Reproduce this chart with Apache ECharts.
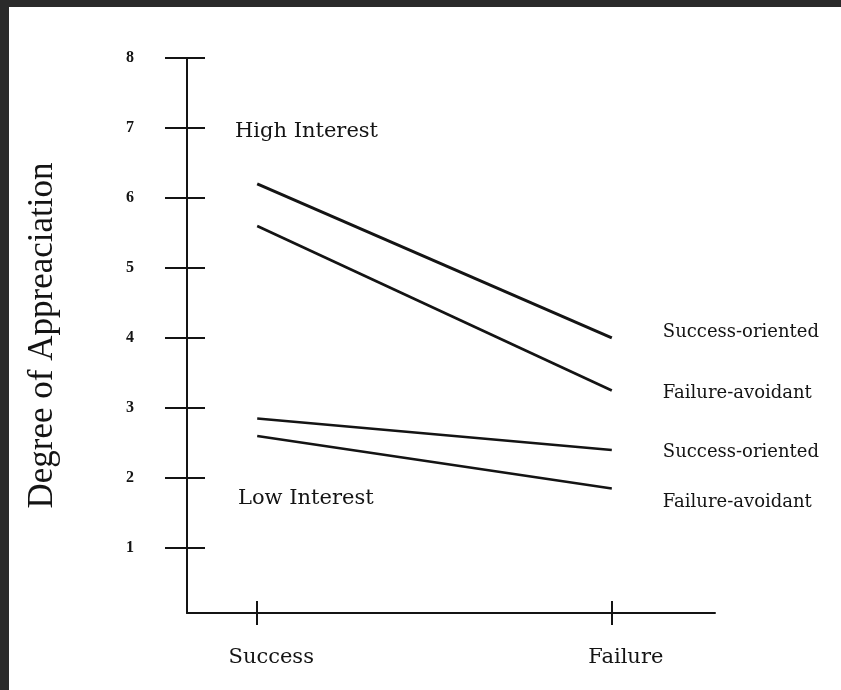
<!DOCTYPE html>
<html>
<head>
<meta charset="utf-8">
<script src="https://cdn.jsdelivr.net/npm/echarts@6/dist/echarts.min.js"></script>
<style>html,body{margin:0;padding:0;background:#fff;}#c{width:841px;height:690px;}</style>
</head>
<body>
<div id="c"></div>
<script>
const categories = ['Success', 'Failure'];
const yTicks = [1, 2, 3, 4, 5, 6, 7, 8];
const highSuccessOriented = [6.2, 4.0];
const highFailureAvoidant = [5.6, 3.25];
const lowSuccessOriented = [2.85, 2.4];
const lowFailureAvoidant = [2.6, 1.85];
const seriesNames = ['Success-oriented', 'Failure-avoidant', 'Success-oriented', 'Failure-avoidant'];
const groupLabels = ['High Interest', 'Low Interest'];
const yAxisTitle = 'Degree of Appreaciation';

const ink = '#141414';
const serif = '"DejaVu Serif", "Liberation Serif", serif';
const xIdx = categories.map((c, i) => i);
const toData = vals => vals.map((v, i) => [xIdx[i], v]);

const seriesValues = [highSuccessOriented, highFailureAvoidant, lowSuccessOriented, lowFailureAvoidant];
const lineWidths = [3, 2.6, 2.6, 2.4];
const labelDy = [-6, 2.5, 2, 13.5];

const chart = echarts.init(document.getElementById('c'), null, {renderer: 'canvas'});
const commonX = {
  type: 'value', min: -0.198, max: 1.291, position: 'bottom',
  splitLine: {show: false}
};
const commonY = {
  type: 'value', min: 0.071, max: 8, position: 'left',
  splitLine: {show: false}
};
chart.setOption({
  animation: false,
  backgroundColor: '#ffffff',
  grid: {left: 187, right: 126, top: 58, bottom: 77, containLabel: false},
  xAxis: [
    Object.assign({}, commonX, {
      axisLine: {show: true, onZero: false, lineStyle: {color: ink, width: 2}},
      axisTick: {show: true, inside: false, length: 12, customValues: xIdx, lineStyle: {color: ink, width: 2}},
      axisLabel: {show: true, customValues: xIdx, formatter: v => categories[Math.round(v)] || '',
        margin: 34, color: ink, fontFamily: serif, fontSize: 21, padding: [0, 0, 0, 28]}
    }),
    Object.assign({}, commonX, {
      axisLine: {show: false, onZero: false},
      axisTick: {show: true, inside: true, length: 12, customValues: xIdx, lineStyle: {color: ink, width: 2}},
      axisLabel: {show: false}
    })
  ],
  yAxis: [
    Object.assign({}, commonY, {
      name: yAxisTitle, nameLocation: 'middle', nameGap: 127, nameRotate: 90,
      nameTextStyle: {fontFamily: '"Liberation Serif", serif', fontSize: 35, color: ink},
      axisLine: {show: true, onZero: false, lineStyle: {color: ink, width: 2}},
      axisTick: {show: true, inside: false, length: 22, customValues: yTicks, lineStyle: {color: ink, width: 2}},
      axisLabel: {show: true, customValues: yTicks, margin: 53, color: ink,
        fontFamily: '"Liberation Serif", serif', fontWeight: 'bold', fontSize: 16}
    }),
    Object.assign({}, commonY, {
      axisLine: {show: false, onZero: false},
      axisTick: {show: true, inside: true, length: 18, customValues: yTicks, lineStyle: {color: ink, width: 2}},
      axisLabel: {show: false}
    })
  ],
  graphic: [
    {type: 'rect', z: 100, silent: true, shape: {x: 0, y: 0, width: 841, height: 7}, style: {fill: '#2a2a2a'}},
    {type: 'rect', z: 100, silent: true, shape: {x: 0, y: 0, width: 9, height: 690}, style: {fill: '#2a2a2a'}},
    {type: 'text', z: 50, left: 235, top: 121, style: {text: groupLabels[0], fontFamily: serif, fontSize: 21, fill: ink}},
    {type: 'text', z: 50, left: 238, top: 488, style: {text: groupLabels[1], fontFamily: serif, fontSize: 21, fill: ink}}
  ],
  series: seriesValues.map((vals, i) => ({
    type: 'line',
    name: seriesNames[i] + i,
    xAxisIndex: 0, yAxisIndex: 0,
    data: toData(vals),
    showSymbol: false, symbol: 'none',
    lineStyle: {color: ink, width: lineWidths[i]},
    endLabel: {show: true, formatter: () => seriesNames[i], distance: 51, offset: [0, labelDy[i]],
      fontFamily: serif, fontSize: 18, color: ink}
  }))
});
</script>
</body>
</html>
